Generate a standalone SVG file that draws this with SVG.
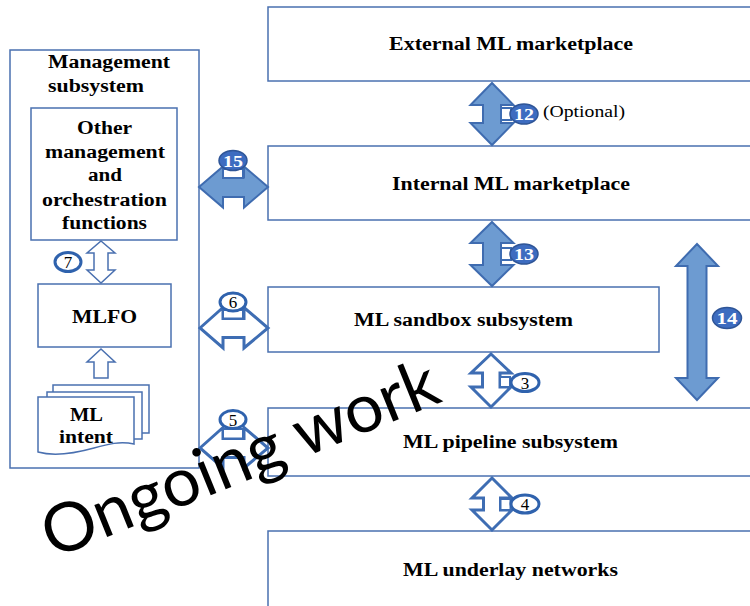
<svg xmlns="http://www.w3.org/2000/svg" width="750" height="606" viewBox="0 0 750 606">
  <style>
    .box { fill: #ffffff; stroke: #4a70b0; stroke-width: 1.5; }
    .lbl { font-family: "Liberation Serif", "DejaVu Serif", "Times New Roman", serif; font-weight: bold; font-size: 18px; fill: #000000; }
    .note { font-family: "Liberation Serif", "DejaVu Serif", "Times New Roman", serif; font-size: 17px; fill: #000000; }
    .filled { fill: #6d9bd1; stroke: #3f6cb0; stroke-width: 2; stroke-linejoin: miter; }
    .hollow { fill: #ffffff; stroke: #3e6db3; stroke-width: 3; stroke-linejoin: miter; }
    .thin { fill: #ffffff; stroke: #4a70b0; stroke-width: 1.5; }
    .tab { fill: #ffffff; stroke: #3e6db3; stroke-width: 2; }
    .badge-f { fill: #3d6cc0; stroke: #2f5597; stroke-width: 1.5; }
    .badge-h { fill: #ffffff; stroke: #2f62ad; stroke-width: 3; }
    .num-f { font-family: "Liberation Serif", "DejaVu Serif", "Times New Roman", serif; font-weight: bold; font-size: 17px; fill: #ffffff; }
    .num-h { font-family: "Liberation Serif", "DejaVu Serif", "Times New Roman", serif; font-size: 17px; fill: #000000; text-anchor: middle; }
    .stamp { font-family: Lato, "Liberation Sans", sans-serif; font-size: 68px; fill: #000000; }
  </style>

  <!-- right-hand column of subsystems -->
  <g id="external-marketplace">
    <rect class="box" x="268" y="7" width="490" height="74"/>
    <text class="lbl" x="389" y="50" textLength="244" lengthAdjust="spacingAndGlyphs">External ML marketplace</text>
  </g>
  <g id="internal-marketplace">
    <rect class="box" x="268" y="146" width="490" height="74"/>
    <text class="lbl" x="392" y="190" textLength="238" lengthAdjust="spacingAndGlyphs">Internal ML marketplace</text>
  </g>
  <g id="sandbox">
    <rect class="box" x="268" y="287" width="391" height="65"/>
    <text class="lbl" x="354" y="326" textLength="219" lengthAdjust="spacingAndGlyphs">ML sandbox subsystem</text>
  </g>
  <g id="pipeline">
    <rect class="box" x="268" y="408" width="490" height="68"/>
    <text class="lbl" x="403" y="448" textLength="215" lengthAdjust="spacingAndGlyphs">ML pipeline subsystem</text>
  </g>
  <g id="underlay">
    <rect class="box" x="268" y="531" width="490" height="80"/>
    <text class="lbl" x="403" y="576" textLength="215" lengthAdjust="spacingAndGlyphs">ML underlay networks</text>
  </g>

  <!-- management subsystem on the left -->
  <g id="management">
    <rect class="box" x="10" y="50" width="189" height="418"/>
    <text class="lbl" x="48" y="68" textLength="122" lengthAdjust="spacingAndGlyphs">Management</text>
    <text class="lbl" x="48" y="92" textLength="96" lengthAdjust="spacingAndGlyphs">subsystem</text>
  </g>
  <g id="other-functions">
    <rect class="box" x="31" y="108" width="146" height="132"/>
    <text class="lbl" x="77" y="134" textLength="55" lengthAdjust="spacingAndGlyphs">Other</text>
    <text class="lbl" x="45" y="158" textLength="120" lengthAdjust="spacingAndGlyphs">management</text>
    <text class="lbl" x="88" y="181" textLength="34" lengthAdjust="spacingAndGlyphs">and</text>
    <text class="lbl" x="42" y="206" textLength="125" lengthAdjust="spacingAndGlyphs">orchestration</text>
    <text class="lbl" x="62" y="229" textLength="85" lengthAdjust="spacingAndGlyphs">functions</text>
  </g>
  <g id="mlfo">
    <rect class="box" x="38" y="284" width="133" height="63"/>
    <text class="lbl" x="72" y="323" textLength="65" lengthAdjust="spacingAndGlyphs">MLFO</text>
  </g>
  <g id="ml-intent">
    <rect class="thin" x="53" y="385" width="96" height="48"/>
    <rect class="thin" x="47" y="392" width="95" height="47"/>
    <path class="thin" d="M38,397 H134 V444 C120,441 108,444 94,448 C76,453 56,457 38,452 Z"/>
    <text class="lbl" x="70" y="421" textLength="33" lengthAdjust="spacingAndGlyphs">ML</text>
    <text class="lbl" x="59" y="443" textLength="54" lengthAdjust="spacingAndGlyphs">intent</text>
  </g>

  <!-- reference points between the subsystems -->
  <g id="connectors">
    <!-- 7: other functions <-> MLFO -->
    <polygon class="thin" points="101,241 115,253 108,253 108,270 115,270 101,283 87,270 94,270 94,253 87,253"/>
    <ellipse class="badge-h" cx="68" cy="262" rx="13" ry="9.5"/>
    <text class="num-h" x="68" y="268">7</text>

    <!-- ML intent -> MLFO -->
    <polygon class="thin" points="101,349 115,362 108,362 108,378 94,378 94,362 87,362"/>

    <!-- 15: management <-> internal marketplace -->
    <polygon class="filled" points="199,187 223,166.5 223,177.5 244,177.5 244,166.5 268,187 244,207.5 244,197 223,197 223,207.5"/>
    <rect class="tab" x="223" y="169" width="20" height="9"/>
    <ellipse class="badge-f" cx="233" cy="160.5" rx="14" ry="10"/>
    <text class="num-f" x="223" y="166.5" textLength="20" lengthAdjust="spacingAndGlyphs">15</text>

    <!-- 6: management <-> sandbox -->
    <polygon class="hollow" points="200,328 223,307.5 223,318.5 244,318.5 244,307.5 268,328 244,348 244,337.5 223,337.5 223,348"/>
    <rect class="tab" x="223" y="310" width="20" height="8.5"/>
    <ellipse class="badge-h" cx="233" cy="302" rx="13" ry="9"/>
    <text class="num-h" x="233" y="308">6</text>

    <!-- 5: management <-> pipeline -->
    <polygon class="hollow" points="200,448 223,427.5 223,438.5 244,438.5 244,427.5 268,448 244,468 244,457.5 223,457.5 223,468"/>
    <rect class="tab" x="223" y="429" width="20" height="9.5"/>
    <ellipse class="badge-h" cx="233" cy="419.5" rx="13" ry="9"/>
    <text class="num-h" x="233" y="425.5">5</text>

    <!-- 12: external <-> internal marketplace (optional) -->
    <polygon class="filled" points="492,83 513.5,105 501,105 501,123 513.5,123 492,145 470.5,123 483,123 483,105 470.5,105"/>
    <rect class="tab" x="501" y="108" width="10" height="12"/>
    <ellipse class="badge-f" cx="524" cy="114" rx="14" ry="10"/>
    <text class="num-f" x="514" y="120" textLength="20" lengthAdjust="spacingAndGlyphs">12</text>
    <text class="note" x="543" y="117" textLength="82" lengthAdjust="spacingAndGlyphs">(Optional)</text>

    <!-- 13: internal marketplace <-> sandbox -->
    <polygon class="filled" points="492,222 513.5,243 501,243 501,265 513.5,265 492,286 470.5,265 483,265 483,243 470.5,243"/>
    <rect class="tab" x="501" y="248" width="10" height="12"/>
    <ellipse class="badge-f" cx="524" cy="254" rx="14" ry="10"/>
    <text class="num-f" x="514" y="260" textLength="20" lengthAdjust="spacingAndGlyphs">13</text>

    <!-- 14: internal marketplace <-> pipeline -->
    <polygon class="filled" points="697,244 718,266 706.5,266 706.5,378 718,378 697,400 676,378 687.5,378 687.5,266 676,266"/>
    <ellipse class="badge-f" cx="727" cy="318" rx="14.5" ry="10.5"/>
    <text class="num-f" x="716.5" y="324" textLength="21" lengthAdjust="spacingAndGlyphs">14</text>

    <!-- 3: sandbox <-> pipeline -->
    <polygon class="hollow" points="491,354 511,373 500,373 500,387 511,387 491,407 471,387 482.5,387 482.5,373 471,373"/>
    <rect class="tab" x="500" y="377" width="10" height="10"/>
    <ellipse class="badge-h" cx="525" cy="382.5" rx="14" ry="9"/>
    <text class="num-h" x="525" y="388.5">3</text>

    <!-- 4: pipeline <-> underlay -->
    <polygon class="hollow" points="492,478 512,498 500.5,498 500.5,510 512,510 492,530 472,510 483.5,510 483.5,498 472,498"/>
    <rect class="tab" x="500.5" y="499" width="10" height="11"/>
    <ellipse class="badge-h" cx="525" cy="504" rx="14" ry="9"/>
    <text class="num-h" x="525" y="510">4</text>
  </g>

  <!-- status stamp across the figure -->
  <text class="stamp" x="53" y="559" transform="rotate(-22 53 559)">Ongoing work</text>
</svg>
